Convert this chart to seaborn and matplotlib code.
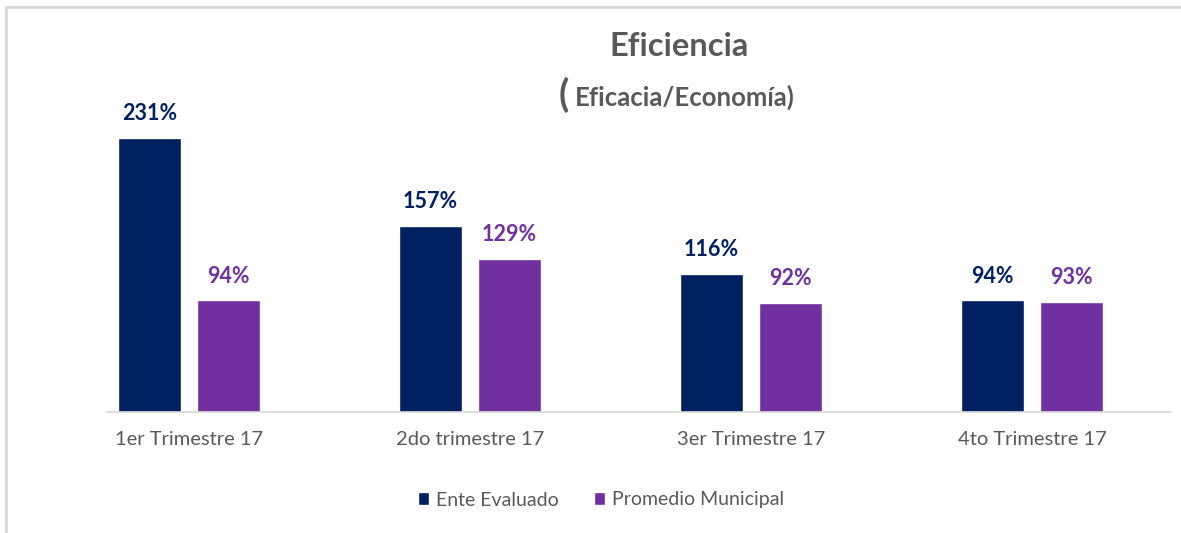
import pandas as pd
import seaborn as sns
import matplotlib.pyplot as plt
from matplotlib.lines import Line2D

# datos
trimestres = ["1er Trimestre 17", "2do trimestre 17", "3er Trimestre 17", "4to Trimestre 17"]
ente = [231, 157, 116, 94]
promedio = [94, 129, 92, 93]
series = ["Ente Evaluado", "Promedio Municipal"]
colores = ["#002060", "#7030A0"]
gris = "#595959"

df = pd.DataFrame({
    "Trimestre": trimestres * 2,
    "Serie": [series[0]] * 4 + [series[1]] * 4,
    "Valor": ente + promedio,
})

sns.set_theme(style="white")
plt.rcParams["font.family"] = ["Lato", "DejaVu Sans"]

fig = plt.figure(figsize=(11.81, 5.33), dpi=100)
ax = fig.add_axes([107 / 1181, 121 / 533, 1064 / 1181, 312 / 533])

sns.barplot(data=df, x="Trimestre", y="Valor", hue="Serie", palette=colores,
            width=0.5625, gap=0.2, ax=ax, saturation=1)

for cont, c in zip(ax.containers, colores):
    ax.bar_label(cont, labels=[f"{v:.0f}%" for v in cont.datavalues], padding=10,
                 color=c, fontsize=15.5, fontweight="bold")

ax.set_ylim(0, 263)
ax.set_xlim(-0.292, 3.495)
ax.set_xlabel("")
ax.set_ylabel("")
ax.set_yticks([])
ax.tick_params(axis="x", length=0, labelsize=14.5, labelcolor=gris, pad=14)
for s in ["top", "left", "right"]:
    ax.spines[s].set_visible(False)
ax.spines["bottom"].set_color("#d9d9d9")
ax.spines["bottom"].set_linewidth(1.2)

# leyenda abajo
h, l = ax.get_legend_handles_labels()
ax.get_legend().remove()
fig.legend(h, l, loc="center", bbox_to_anchor=(601 / 1181, 1 - 500 / 533), ncol=2,
           frameon=False, fontsize=14, labelcolor=gris, handlelength=0.6,
           handleheight=0.6, handletextpad=0.35, columnspacing=1.8)

# titulos
fig.text(679 / 1181, 1 - 47 / 533, "Eficiencia", ha="center", va="center",
         fontsize=23.5, fontweight="bold", color=gris)
fig.text(559 / 1181, 1 - 95 / 533, "(", ha="left", va="center",
         fontsize=27, fontweight="bold", color=gris)
fig.text(575 / 1181, 1 - 97 / 533, "Eficacia/Economía)", ha="left", va="center",
         fontsize=18.5, fontweight="bold", color=gris)

# borde del area del grafico
fig.add_artist(Line2D([6 / 1181, 1], [1 - 7 / 533] * 2, color="#d9d9d9", lw=2))
fig.add_artist(Line2D([6 / 1181] * 2, [0, 1 - 7 / 533], color="#d9d9d9", lw=2))

fig.savefig("out.png", dpi=100)
